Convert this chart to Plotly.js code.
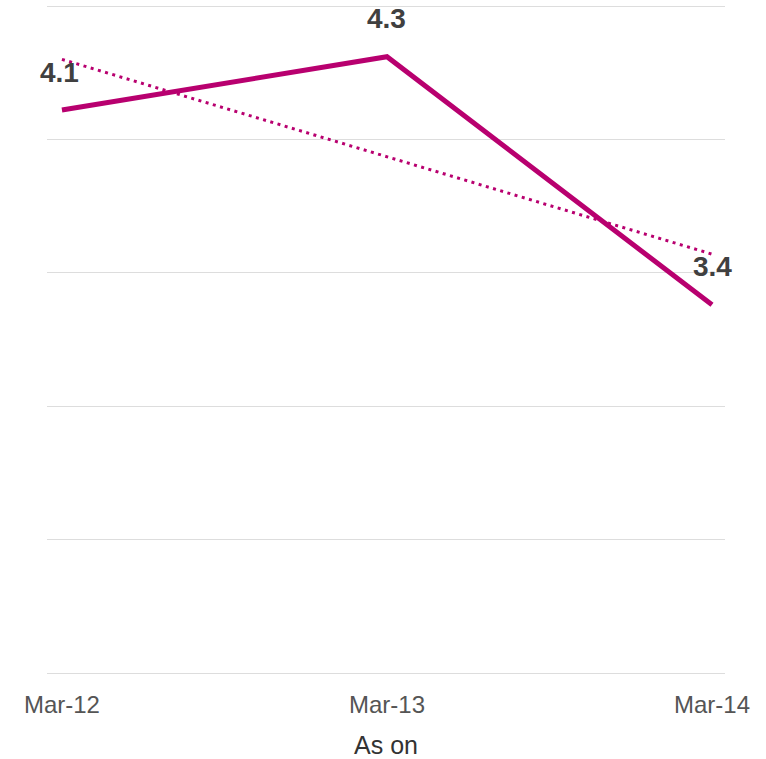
<!DOCTYPE html>
<html><head><meta charset="utf-8">
<script src="https://cdn.plot.ly/plotly-3.0.1.min.js"></script>
<style>html,body{margin:0;padding:0;background:#fff}#chart{width:766px;height:759px}</style>
</head><body><div id="chart"></div>
<script>
var categories = ["Mar-12", "Mar-13", "Mar-14"];
var values = [4.11, 4.31, 3.38];
var valueLabels = ["4.1", "4.3", "3.4"];
var trendCategories = ["Mar-12", "Mar-14"];
var trendValues = [4.30, 3.57];

var lineColor = "#b8006f";
var traces = [
  {x: trendCategories, y: trendValues, type: "scatter", mode: "lines",
   line: {color: lineColor, width: 3, dash: "3px,4.5px"}, hoverinfo: "skip"},
  {x: categories, y: values, type: "scatter", mode: "lines",
   line: {color: lineColor, width: 5}}
];
var annotations = categories.map(function(c, i){
  return {x: c, y: values[i], text: valueLabels[i], showarrow: false, yshift: 38,
    xshift: i === 0 ? -2 : 0,
    font: {family: "Liberation Sans, Arial, sans-serif", size: 28, color: "#404040", weight: "bold"}};
});
var layout = {
  width: 766, height: 759,
  margin: {l: 47, r: 41, t: 3, b: 83},
  paper_bgcolor: "#fff", plot_bgcolor: "#fff",
  showlegend: false,
  font: {family: "Liberation Sans, Arial, sans-serif", color: "#555"},
  xaxis: {type: "category", categoryorder: "array", categoryarray: categories,
    range: [-0.046, 2.04], showgrid: false, zeroline: false,
    showline: false, ticks: "", ticklabelstandoff: 12, tickfont: {size: 24, color: "#555"},
    title: {text: "As on", font: {size: 25, color: "#333"}, standoff: 24}},
  yaxis: {range: [1.98875, 4.51125], dtick: 0.5, tick0: 2.0, showgrid: true, gridcolor: "#dddddd",
    gridwidth: 1, showticklabels: false, zeroline: false, showline: false, ticks: ""},
  annotations: annotations
};
Plotly.newPlot("chart", traces, layout, {displayModeBar: false, staticPlot: true});
</script></body></html>
